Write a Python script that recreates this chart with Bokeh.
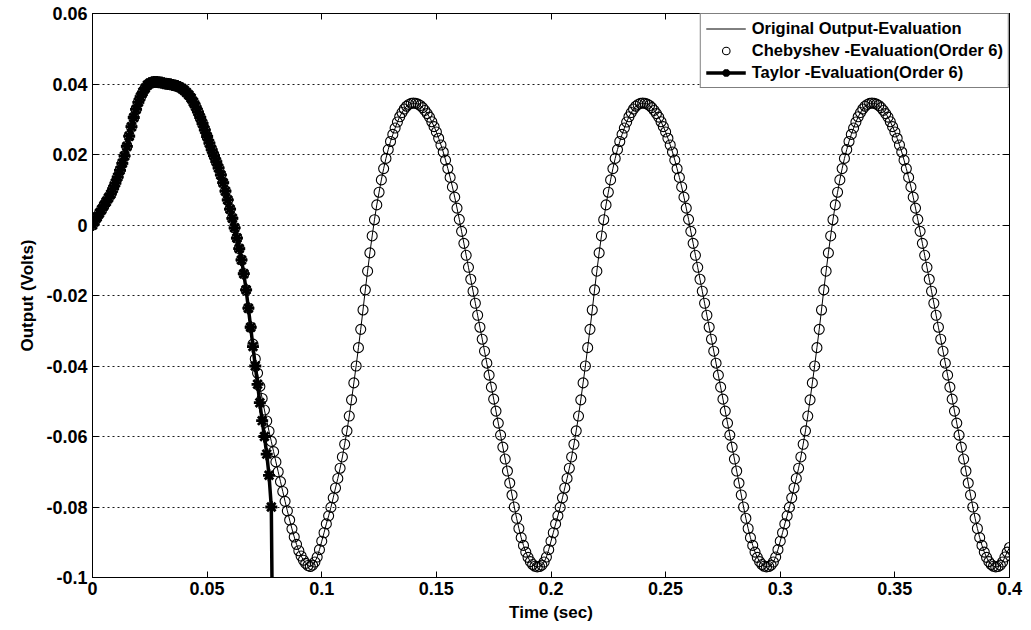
import numpy as np
from bokeh.plotting import figure
from bokeh.models import FixedTicker, LinearAxis, Legend, LegendItem, Range1d
from bokeh.embed import file_html
from bokeh.resources import INLINE

# ---------------- data ----------------
x_ticks = [0, 0.05, 0.1, 0.15, 0.2, 0.25, 0.3, 0.35, 0.4]
x_tick_labels = ["0", "0.05", "0.1", "0.15", "0.2", "0.25", "0.3", "0.35", "0.4"]
y_ticks = [-0.1, -0.08, -0.06, -0.04, -0.02, 0, 0.02, 0.04, 0.06]
y_tick_labels = ["-0.1", "-0.08", "-0.06", "-0.04", "-0.02", "0", "0.02", "0.04", "0.06"]

series_names = ["Original Output-Evaluation",
                "Chebyshev -Evaluation(Order 6)",
                "Taylor -Evaluation(Order 6)"]

sample_step = 0.001  # seconds between samples

# Taylor evaluation, t = 0 .. 0.079 s
taylor_v = [
    0.0000, 0.0011, 0.0022, 0.0033, 0.0044, 0.0055, 0.0066, 0.0077, 0.0088, 0.0103,
    0.0119, 0.0136, 0.0155, 0.0175, 0.0196, 0.0223, 0.0252, 0.0279, 0.0305, 0.0328,
    0.0348, 0.0364, 0.0377, 0.0388, 0.0397, 0.0402, 0.0405, 0.0406, 0.0406, 0.0405,
    0.0404, 0.0402, 0.0401, 0.0400, 0.0399, 0.0397, 0.0396, 0.0394, 0.0391, 0.0387,
    0.0382, 0.0376, 0.0369, 0.0360, 0.0349, 0.0336, 0.0321, 0.0305, 0.0288, 0.0270,
    0.0251, 0.0232, 0.0214, 0.0197, 0.0180, 0.0162, 0.0142, 0.0120, 0.0096, 0.0071,
    0.0045, 0.0019, -0.0008, -0.0037, -0.0067, -0.0099, -0.0138, -0.0184, -0.0236, -0.0290,
    -0.0345, -0.0400, -0.0452, -0.0504, -0.0555, -0.0600, -0.0650, -0.0710, -0.0800, -0.1500,
]

# Original output (= Chebyshev evaluation), t = 0 .. 0.094 s
original_v_start = [
    0.0000, 0.0011, 0.0022, 0.0033, 0.0044, 0.0055, 0.0066, 0.0077, 0.0088, 0.0103,
    0.0119, 0.0136, 0.0155, 0.0175, 0.0196, 0.0223, 0.0252, 0.0279, 0.0305, 0.0328,
    0.0348, 0.0364, 0.0377, 0.0388, 0.0397, 0.0402, 0.0405, 0.0406, 0.0406, 0.0405,
    0.0404, 0.0402, 0.0401, 0.0400, 0.0399, 0.0397, 0.0396, 0.0394, 0.0391, 0.0387,
    0.0382, 0.0376, 0.0369, 0.0360, 0.0349, 0.0336, 0.0321, 0.0305, 0.0288, 0.0270,
    0.0251, 0.0232, 0.0214, 0.0197, 0.0180, 0.0162, 0.0142, 0.0120, 0.0096, 0.0071,
    0.0045, 0.0019, -0.0008, -0.0037, -0.0067, -0.0099, -0.0138, -0.0184, -0.0236, -0.0290,
    -0.0338, -0.0380, -0.0420, -0.0458, -0.0492, -0.0525, -0.0556, -0.0585, -0.0614, -0.0643,
    -0.0672, -0.0700, -0.0728, -0.0756, -0.0784, -0.0811, -0.0837, -0.0862, -0.0885, -0.0906,
    -0.0924, -0.0939, -0.0951, -0.0960, -0.0966,
]

# t = 0.095 .. 0.194 s
original_v_cycle1 = [
    -0.0969, -0.0965, -0.0956, -0.0942, -0.0921, -0.0897, -0.0873, -0.0848, -0.0825, -0.0801,
    -0.0774, -0.0746, -0.0719, -0.0690, -0.0658, -0.0622, -0.0584, -0.0542, -0.0496, -0.0448,
    -0.0400, -0.0348, -0.0296, -0.0241, -0.0184, -0.0131, -0.0079, -0.0031, 0.0015, 0.0057,
    0.0093, 0.0128, 0.0160, 0.0189, 0.0214, 0.0237, 0.0257, 0.0275, 0.0292, 0.0307,
    0.0319, 0.0329, 0.0337, 0.0342, 0.0345, 0.0346, 0.0345, 0.0343, 0.0339, 0.0333,
    0.0325, 0.0316, 0.0306, 0.0293, 0.0279, 0.0264, 0.0246, 0.0227, 0.0207, 0.0184,
    0.0160, 0.0135, 0.0108, 0.0079, 0.0048, 0.0016, -0.0018, -0.0052, -0.0086, -0.0120,
    -0.0154, -0.0188, -0.0222, -0.0256, -0.0290, -0.0324, -0.0358, -0.0392, -0.0426, -0.0460,
    -0.0494, -0.0528, -0.0562, -0.0596, -0.0630, -0.0664, -0.0698, -0.0732, -0.0766, -0.0800,
    -0.0832, -0.0861, -0.0887, -0.0909, -0.0928, -0.0943, -0.0955, -0.0963, -0.0968, -0.0970,
]

# t = 0.195 .. 0.294 s
original_v_cycle2 = [
    -0.0969, -0.0965, -0.0956, -0.0942, -0.0921, -0.0897, -0.0873, -0.0848, -0.0825, -0.0801,
    -0.0774, -0.0746, -0.0719, -0.0690, -0.0658, -0.0622, -0.0584, -0.0542, -0.0496, -0.0448,
    -0.0400, -0.0348, -0.0296, -0.0241, -0.0184, -0.0131, -0.0079, -0.0031, 0.0015, 0.0057,
    0.0093, 0.0128, 0.0160, 0.0189, 0.0214, 0.0237, 0.0257, 0.0275, 0.0292, 0.0307,
    0.0319, 0.0329, 0.0337, 0.0342, 0.0345, 0.0346, 0.0345, 0.0343, 0.0339, 0.0333,
    0.0325, 0.0316, 0.0306, 0.0293, 0.0279, 0.0264, 0.0246, 0.0227, 0.0207, 0.0184,
    0.0160, 0.0135, 0.0108, 0.0079, 0.0048, 0.0016, -0.0018, -0.0052, -0.0086, -0.0120,
    -0.0154, -0.0188, -0.0222, -0.0256, -0.0290, -0.0324, -0.0358, -0.0392, -0.0426, -0.0460,
    -0.0494, -0.0528, -0.0562, -0.0596, -0.0630, -0.0664, -0.0698, -0.0732, -0.0766, -0.0800,
    -0.0832, -0.0861, -0.0887, -0.0909, -0.0928, -0.0943, -0.0955, -0.0963, -0.0968, -0.0970,
]

# t = 0.295 .. 0.394 s
original_v_cycle3 = [
    -0.0969, -0.0965, -0.0956, -0.0942, -0.0921, -0.0897, -0.0873, -0.0848, -0.0825, -0.0801,
    -0.0774, -0.0746, -0.0719, -0.0690, -0.0658, -0.0622, -0.0584, -0.0542, -0.0496, -0.0448,
    -0.0400, -0.0348, -0.0296, -0.0241, -0.0184, -0.0131, -0.0079, -0.0031, 0.0015, 0.0057,
    0.0093, 0.0128, 0.0160, 0.0189, 0.0214, 0.0237, 0.0257, 0.0275, 0.0292, 0.0307,
    0.0319, 0.0329, 0.0337, 0.0342, 0.0345, 0.0346, 0.0345, 0.0343, 0.0339, 0.0333,
    0.0325, 0.0316, 0.0306, 0.0293, 0.0279, 0.0264, 0.0246, 0.0227, 0.0207, 0.0184,
    0.0160, 0.0135, 0.0108, 0.0079, 0.0048, 0.0016, -0.0018, -0.0052, -0.0086, -0.0120,
    -0.0154, -0.0188, -0.0222, -0.0256, -0.0290, -0.0324, -0.0358, -0.0392, -0.0426, -0.0460,
    -0.0494, -0.0528, -0.0562, -0.0596, -0.0630, -0.0664, -0.0698, -0.0732, -0.0766, -0.0800,
    -0.0832, -0.0861, -0.0887, -0.0909, -0.0928, -0.0943, -0.0955, -0.0963, -0.0968, -0.0970,
]

# t = 0.395 .. 0.400 s
original_v_end = [-0.0969, -0.0965, -0.0956, -0.0942, -0.0928, -0.0915]

# ---------------- assemble ----------------
original_v = (original_v_start + original_v_cycle1 + original_v_cycle2
              + original_v_cycle3 + original_v_end)
t_original = np.round(np.arange(len(original_v)) * sample_step, 4)
t_taylor = np.round(np.arange(len(taylor_v)) * sample_step, 4)

FONT = "Liberation Sans"

p = figure(width=1031, height=630,
           x_range=Range1d(0, 0.4), y_range=Range1d(-0.1, 0.06),
           output_backend="svg", toolbar_location=None,
           min_border_left=92, min_border_right=22,
           min_border_top=13, min_border_bottom=53,
           background_fill_color="white", border_fill_color="white")

bottom_axis = p.below[0]
left_axis = p.left[0]

p.outline_line_color = "black"
p.outline_line_width = 1
p.outline_line_alpha = 1

# grid: horizontal dotted only
p.xgrid.visible = False
p.ygrid.ticker = FixedTicker(ticks=y_ticks)
p.ygrid.grid_line_color = "black"
p.ygrid.grid_line_dash = "2 3"
p.ygrid.grid_line_width = 1
p.ygrid.grid_line_alpha = 0.9

# extra axes (ticks only) on top and right
top_axis = LinearAxis()
right_axis = LinearAxis()
p.add_layout(top_axis, "above")
p.add_layout(right_axis, "right")

for ax in [bottom_axis, top_axis]:
    ax.ticker = FixedTicker(ticks=x_ticks)
    ax.major_label_overrides = dict(zip(x_ticks, x_tick_labels))
for ax in [left_axis, right_axis]:
    ax.ticker = FixedTicker(ticks=y_ticks)
    ax.major_label_overrides = dict(zip(y_ticks, y_tick_labels))

for ax in [bottom_axis, left_axis, top_axis, right_axis]:
    ax.major_tick_in = 6
    ax.major_tick_out = 0
    ax.minor_tick_in = 0
    ax.minor_tick_out = 0
    ax.axis_line_color = "black"
    ax.major_tick_line_color = "black"
    ax.major_label_text_font = FONT
    ax.major_label_text_font_size = "18px"
    ax.major_label_text_font_style = "bold"
    ax.major_label_text_color = "black"

for ax in [top_axis, right_axis]:
    ax.major_label_text_font_size = "0px"
    ax.major_label_text_alpha = 0
    ax.major_label_standoff = 0

bottom_axis.major_label_standoff = 4
left_axis.major_label_standoff = 5

bottom_axis.axis_label = "Time (sec)"
left_axis.axis_label = "Output (Volts)"
for ax in [bottom_axis, left_axis]:
    ax.axis_label_text_font = FONT
    ax.axis_label_text_font_style = "bold"
    ax.axis_label_text_font_size = "17px"
    ax.axis_label_text_color = "black"
bottom_axis.axis_label_standoff = 5
left_axis.axis_label_standoff = 6

# ---------------- glyphs ----------------
r_orig = p.line(t_original, original_v, line_color="black", line_width=1)
r_cheb = p.scatter(t_original, original_v, marker="circle", size=10,
                   fill_color=None, line_color="black", line_width=1.1)
r_tay_line = p.line(t_taylor, taylor_v, line_color="black", line_width=3.5)
r_tay_pts = p.scatter(t_taylor, taylor_v, marker="asterisk", size=12,
                      line_color="black", line_width=2.8)

legend = Legend(items=[
    LegendItem(label=series_names[0], renderers=[r_orig]),
    LegendItem(label=series_names[1], renderers=[r_cheb]),
    LegendItem(label=series_names[2], renderers=[r_tay_line, r_tay_pts]),
], location="top_right")
legend.margin = 0
legend.padding = 5
legend.spacing = 3
legend.glyph_width = 40
legend.glyph_height = 19
legend.label_height = 19
legend.label_standoff = 6
legend.border_line_color = "black"
legend.border_line_width = 1
legend.background_fill_color = "white"
legend.background_fill_alpha = 1
legend.label_text_font = FONT
legend.label_text_font_style = "bold"
legend.label_text_font_size = "16.5px"
legend.label_text_color = "black"
p.add_layout(legend)

open("out.html", "w").write(file_html(p, INLINE))
